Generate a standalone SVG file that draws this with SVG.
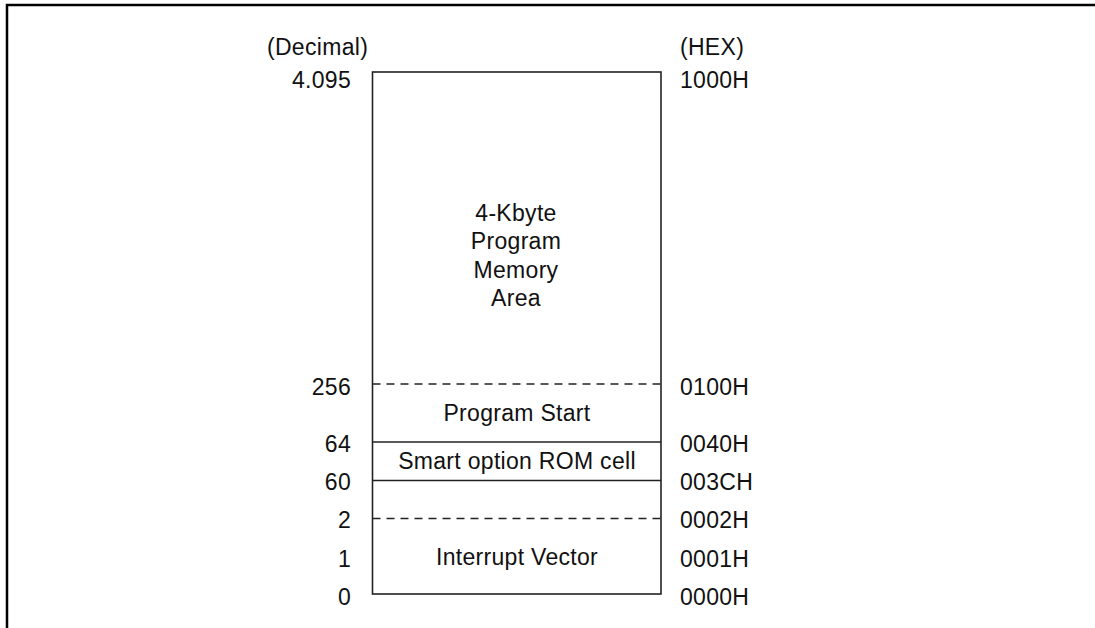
<svg xmlns="http://www.w3.org/2000/svg" width="1095" height="628" viewBox="0 0 1095 628">
<style>
text{font-family:"Liberation Sans",Arial,sans-serif;font-size:23px;fill:#111;letter-spacing:0.3px}
.l{text-anchor:end}
.c{text-anchor:middle}
.box{fill:#fff;stroke:#222;stroke-width:1.6}
.solid{stroke:#222;stroke-width:1.6;fill:none}
.dash{stroke:#222;stroke-width:1.6;fill:none;stroke-dasharray:8 6}
.frame{stroke:#000;stroke-width:2.5;fill:none}
</style>
<rect width="1095" height="628" fill="#fff"/>
<g id="frame">
<path class="frame" d="M7,628 V5 H1095"/>
</g>
<g id="headers">
<text x="267" y="55">(Decimal)</text>
<text x="680" y="55">(HEX)</text>
</g>
<g id="memory-map">
<rect class="box" x="372.5" y="72" width="288.5" height="522"/>
<text class="c" x="516" y="221">4-Kbyte</text>
<text class="c" x="516" y="249">Program</text>
<text class="c" x="516" y="278">Memory</text>
<text class="c" x="516" y="306">Area</text>
</g>
<g id="connectors">
<line class="dash" x1="372.5" y1="384" x2="661" y2="384"/>
<line class="solid" x1="372.5" y1="442" x2="661" y2="442"/>
<line class="solid" x1="372.5" y1="480.5" x2="661" y2="480.5"/>
<line class="dash" x1="372.5" y1="518.5" x2="661" y2="518.5"/>
</g>
<g id="regions">
<text class="c" x="517" y="421">Program Start</text>
<text class="c" x="517" y="469">Smart option ROM cell</text>
<text class="c" x="517" y="565">Interrupt Vector</text>
</g>
<g id="decimal-labels">
<text class="l" x="351" y="88">4.095</text>
<text class="l" x="351" y="395">256</text>
<text class="l" x="351" y="451.5">64</text>
<text class="l" x="351" y="490">60</text>
<text class="l" x="351" y="528">2</text>
<text class="l" x="351" y="566.5">1</text>
<text class="l" x="351" y="605">0</text>
</g>
<g id="hex-labels">
<text x="680" y="88">1000H</text>
<text x="680" y="395">0100H</text>
<text x="680" y="451.5">0040H</text>
<text x="680" y="490">003CH</text>
<text x="680" y="528">0002H</text>
<text x="680" y="566.5">0001H</text>
<text x="680" y="605">0000H</text>
</g>
</svg>
